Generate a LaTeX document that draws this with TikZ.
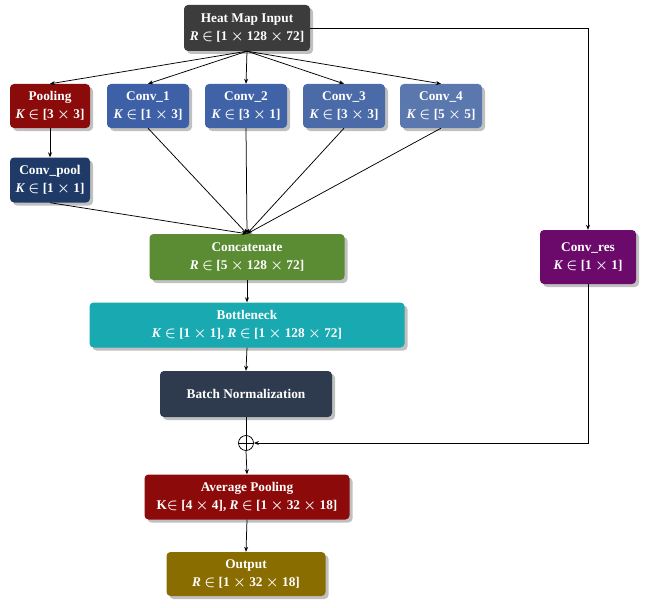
\documentclass[tikz,border=0pt]{standalone}
\usepackage{fontspec}
\setmainfont{Liberation Serif}
\usetikzlibrary{shadows,arrows.meta}
\definecolor{heatc}{HTML}{3C3C3C}
\definecolor{poolc}{HTML}{8B0B0B}
\definecolor{convA}{HTML}{3E60A6}
\definecolor{convB}{HTML}{4063A8}
\definecolor{convC}{HTML}{4B6AA8}
\definecolor{convD}{HTML}{5A77AE}
\definecolor{cpoolc}{HTML}{1F3A66}
\definecolor{concatc}{HTML}{5B8C34}
\definecolor{bottlec}{HTML}{19A9B1}
\definecolor{bnc}{HTML}{2E3A4E}
\definecolor{avgc}{HTML}{8C0A0A}
\definecolor{outc}{HTML}{8A6D00}
\definecolor{resc}{HTML}{6C0A6C}
\newcommand{\Kv}{\textbf{\textit{K}}}
\newcommand{\Rv}{\textbf{\textit{R}}}
\begin{document}
\begin{tikzpicture}[x=1pt,y=-1pt,
  box/.style={rounded corners=4pt, text=white, align=center,
    font=\fontsize{13.3}{17.5}\selectfont\bfseries\boldmath, inner sep=2pt,
    drop shadow={shadow xshift=3pt, shadow yshift=-3pt, fill=gray!70, opacity=0.7}},
  arr/.style={draw=black, line width=0.75pt, -{Stealth[length=5pt,width=4pt]}},
  ln/.style={draw=black, line width=0.75pt}]
\useasboundingbox (0,0) rectangle (647,607);
\fill[white] (0,0) rectangle (647,607);

\node[box, fill=heatc, minimum width=126pt, minimum height=46pt] (heat) at (247,28) {Heat Map Input\\ \Rv\ $\in$ [1 $\times$ 128 $\times$ 72]};

\node[box, fill=poolc, minimum width=80pt, minimum height=44pt] (pool) at (50,106) {Pooling\\ \Kv\ $\in$ [3 $\times$ 3]};
\node[box, fill=convA, minimum width=82pt, minimum height=44pt] (c1) at (148,106) {Conv\_1\\ \Kv\ $\in$ [1 $\times$ 3]};
\node[box, fill=convB, minimum width=82pt, minimum height=44pt] (c2) at (246,106) {Conv\_2\\ \Kv\ $\in$ [3 $\times$ 1]};
\node[box, fill=convC, minimum width=82pt, minimum height=44pt] (c3) at (344,106) {Conv\_3\\ \Kv\ $\in$ [3 $\times$ 3]};
\node[box, fill=convD, minimum width=82pt, minimum height=44pt] (c4) at (441,106) {Conv\_4\\ \Kv\ $\in$ [5 $\times$ 5]};

\node[box, fill=cpoolc, minimum width=80pt, minimum height=45pt] (cpool) at (50,180) {Conv\_pool\\ \Kv\ $\in$ [1 $\times$ 1]};

\node[box, fill=concatc, minimum width=195pt, minimum height=46pt] (concat) at (247,257) {Concatenate\\ \Rv\ $\in$ [5 $\times$ 128 $\times$ 72]};
\node[box, fill=bottlec, minimum width=315pt, minimum height=45pt] (bottle) at (247,325) {Bottleneck\\ \Kv\ $\in$ [1 $\times$ 1], \Rv\ $\in$ [1 $\times$ 128 $\times$ 72]};
\node[box, fill=bnc, minimum width=172pt, minimum height=46pt] (bn) at (246,394) {Batch Normalization};

\node[draw=black, line width=0.75pt, circle, minimum size=15pt, inner sep=0pt,
  path picture={\draw[line width=0.75pt] (path picture bounding box.north)--(path picture bounding box.south) (path picture bounding box.west)--(path picture bounding box.east);}] (sum) at (246,443) {};

\node[box, fill=avgc, minimum width=205pt, minimum height=45pt] (avg) at (247,497) {Average Pooling\\ K$\in$ [4 $\times$ 4], \Rv\ $\in$ [1 $\times$ 32 $\times$ 18]};
\node[box, fill=outc, minimum width=159pt, minimum height=44pt] (out) at (246,574) {Output\\ \Rv\ $\in$ [1 $\times$ 32 $\times$ 18]};

\node[box, fill=resc, minimum width=96pt, minimum height=54pt] (res) at (588,257) {Conv\_res\\ \Kv\ $\in$ [1 $\times$ 1]};

% connectors
\foreach \n in {pool,c1,c2,c3,c4} \draw[arr] (heat.south) -- (\n.north);
\draw[arr] (pool.south) -- (cpool.north);
\foreach \n in {cpool,c1,c2,c3,c4} \draw[arr] (\n.south) -- (concat.north);
\draw[arr] (concat.south) -- (bottle.north);
\draw[arr] (bottle.south) -- (bn.north);
\draw[ln] (bn.south) -- (sum.north);
\draw[arr] (sum.south) -- (avg.north);
\draw[arr] (avg.south) -- (out.north);
\draw[arr] (heat.east) -| (res.north);
\draw[arr] (res.south) |- (sum.east);
\end{tikzpicture}
\end{document}
